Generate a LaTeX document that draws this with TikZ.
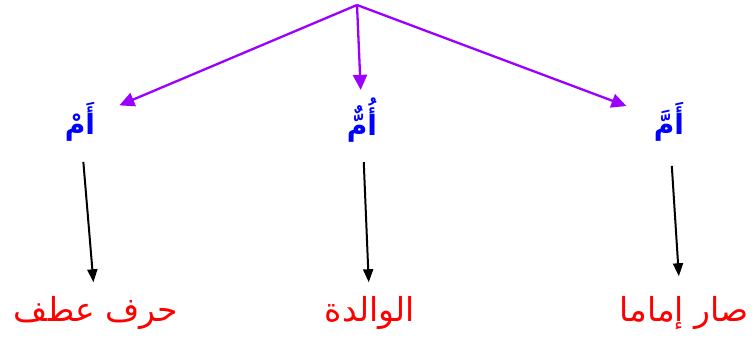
\documentclass[tikz,border=0pt]{standalone}
\usepackage{fontspec}
\usepackage{tikz}
\usetikzlibrary{arrows.meta,positioning}
\TeXXeTstate=1
\newfontfamily\arabicfont[Script=Arabic]{DejaVu Sans}
\definecolor{violet1}{HTML}{9A00FF}
\definecolor{blue1}{HTML}{0000FF}
\definecolor{red1}{HTML}{FF0000}
\begin{document}
\begin{tikzpicture}[x=1pt,y=-1pt,
  word/.style={font=\arabicfont\bfseries\fontsize{28}{30}\selectfont, text=blue1, inner sep=2pt},
  meaning/.style={font=\arabicfont\fontsize{33}{36}\selectfont, text=red1, inner sep=2pt},
  branch/.style={violet1, line width=2.3pt, -{Triangle[length=15pt,width=14pt]}},
  down/.style={black, line width=2pt, -{Triangle[length=13pt,width=10pt]}}]
  \useasboundingbox (0,0) rectangle (755,338);
  \coordinate (top) at (357,5);
  % the three words
  \node[word] (lam) at (80,122) {\beginR أَمْ\endR};
  \node[word] (lum) at (362,120) {\beginR أُمٌّ\endR};
  \node[word] (lamm) at (669,122) {\beginR أَمَّ\endR};
  % their meanings
  \node[meaning] (atf) at (96,313) {\beginR حرف عطف\endR};
  \node[meaning] (mother) at (370,313) {\beginR الوالدة\endR};
  \node[meaning] (imam) at (684,313) {\beginR صار إماما\endR};
  \draw[branch, shorten >=24pt] (top) -- (lam);
  \draw[branch, shorten >=6pt] (top) -- (lum);
  \draw[branch, shorten >=27pt] (top) -- (lamm);
  \draw[down, shorten <=18pt, shorten >=12pt] (lam) -- (atf);
  \draw[down, shorten <=18pt, shorten >=12pt] (lum) -- (mother);
  \draw[down, shorten <=22pt, shorten >=18pt] (lamm) -- ([xshift=-4pt]imam.north);
\end{tikzpicture}
\end{document}
